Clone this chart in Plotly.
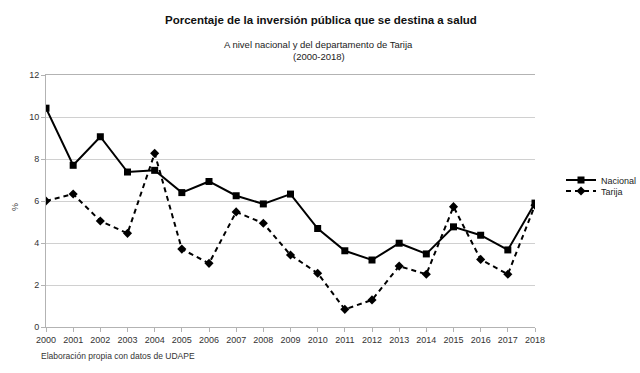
import plotly.graph_objects as go

years = list(range(2000, 2019))
nacional = [10.42, 7.7, 9.06, 7.38, 7.46, 6.4, 6.93, 6.25, 5.86, 6.33, 4.69, 3.63, 3.19, 3.99, 3.48, 4.77, 4.37, 3.67, 5.9]
tarija = [6.0, 6.33, 5.05, 4.46, 8.27, 3.71, 3.03, 5.48, 4.94, 3.43, 2.56, 0.84, 1.29, 2.9, 2.51, 5.73, 3.22, 2.51, 5.8]
y_ticks = [0, 2, 4, 6, 8, 10, 12]

FONT = "Liberation Sans, Arial, sans-serif"

fig = go.Figure()
fig.add_trace(go.Scatter(
    x=years, y=nacional, name="Nacional", mode="lines+markers",
    line=dict(color="black", width=2),
    marker=dict(symbol="square", size=7, color="black"),
    legend="legend",
))
fig.add_trace(go.Scatter(
    x=years, y=tarija, name="Tarija", mode="lines+markers",
    line=dict(color="black", width=2, dash="5px,4px"),
    marker=dict(symbol="diamond", size=7, color="black"),
    legend="legend2",
))

leg_common = dict(xanchor="left", yanchor="middle", font=dict(size=9, color="#222"),
                  bgcolor="rgba(0,0,0,0)", itemwidth=30)

fig.update_layout(
    width=640, height=373,
    margin=dict(l=46, r=105, t=75, b=46, autoexpand=False),
    paper_bgcolor="white", plot_bgcolor="white",
    font=dict(family=FONT, size=9, color="#333"),
    showlegend=True,
    legend=dict(x=(561 - 46) / 489, y=(327 - 180) / 252, **leg_common),
    legend2=dict(x=(561 - 46) / 489, y=(327 - 191) / 252, **leg_common),
    xaxis=dict(
        range=[2000, 2018], tickmode="array", tickvals=years,
        ticktext=[str(y) for y in years],
        showgrid=False, showline=True, linecolor="#b3b3b3", linewidth=1,
        mirror=True, ticks="outside", ticklen=4, tickcolor="#b3b3b3",
        tickfont=dict(size=9, color="#333"), zeroline=False,
    ),
    yaxis=dict(
        range=[0, 12], tickmode="array", tickvals=y_ticks,
        showgrid=True, gridcolor="#d0d0d0", gridwidth=1,
        showline=True, linecolor="#b3b3b3", linewidth=1,
        ticks="outside", ticklen=4, tickcolor="#b3b3b3",
        tickfont=dict(size=9, color="#333"), zeroline=False,
    ),
    annotations=[
        dict(text="<b>Porcentaje de la inversión pública que se destina a salud</b>",
             xref="paper", yref="paper", x=(321 - 46) / 489, y=(327 - 20) / 252,
             xanchor="center", yanchor="middle", showarrow=False,
             font=dict(size=11.5, color="#111")),
        dict(text="A nivel nacional y del departamento de Tarija",
             xref="paper", yref="paper", x=(318 - 46) / 489, y=(327 - 45) / 252,
             xanchor="center", yanchor="middle", showarrow=False,
             font=dict(size=9.5, color="#222")),
        dict(text="(2000-2018)",
             xref="paper", yref="paper", x=(319 - 46) / 489, y=(327 - 56) / 252,
             xanchor="center", yanchor="middle", showarrow=False,
             font=dict(size=9.5, color="#222")),
        dict(text="%", xref="paper", yref="paper", x=(15 - 46) / 489, y=(327 - 207) / 252,
             xanchor="center", yanchor="middle", showarrow=False, textangle=-90,
             font=dict(size=9, color="#444")),
        dict(text="Elaboración propia con datos de UDAPE", xref="paper", yref="paper",
             x=(39 - 46) / 489, y=(327 - 356) / 252, xanchor="left", yanchor="middle",
             showarrow=False, font=dict(size=8.5, color="#333")),
    ],
)

fig.write_html("out.html")
